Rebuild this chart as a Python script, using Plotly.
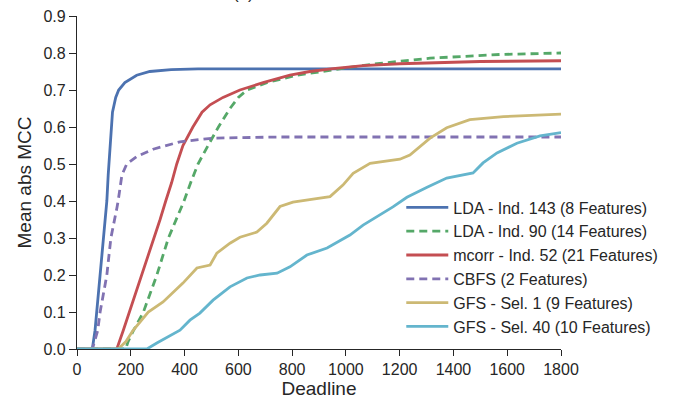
import plotly.graph_objects as go

# LDA - Ind. 143 (8 Features)
lda143_x = [0, 57, 67, 73, 86, 98, 104, 111, 116, 120, 126, 132, 138, 144, 155, 178, 222, 271, 350, 450, 700, 1000, 1400, 1800]
lda143_y = [0, 0, 0.05, 0.10, 0.20, 0.30, 0.35, 0.40, 0.47, 0.52, 0.60, 0.64, 0.66, 0.68, 0.70, 0.72, 0.74, 0.75, 0.755, 0.757, 0.757, 0.757, 0.757, 0.757]

# LDA - Ind. 90 (14 Features)
lda90_x = [0, 181, 190, 210, 247, 297, 340, 398, 423, 450, 495, 526, 569, 600, 632, 706, 818, 904, 978, 1050, 1127, 1313, 1573, 1800]
lda90_y = [0, 0, 0.02, 0.05, 0.10, 0.20, 0.30, 0.40, 0.45, 0.50, 0.56, 0.60, 0.65, 0.68, 0.70, 0.72, 0.74, 0.75, 0.758, 0.765, 0.772, 0.786, 0.796, 0.80]

# mcorr - Ind. 52 (21 Features)
mcorr_x = [0, 148, 172, 195, 210, 240, 286, 309, 330, 352, 371, 394, 431, 465, 495, 543, 606, 692, 792, 866, 952, 1064, 1200, 1313, 1500, 1800]
mcorr_y = [0, 0, 0.05, 0.10, 0.13, 0.20, 0.30, 0.35, 0.40, 0.45, 0.50, 0.55, 0.60, 0.64, 0.66, 0.68, 0.70, 0.72, 0.74, 0.75, 0.758, 0.766, 0.771, 0.774, 0.777, 0.779]

# CBFS (2 Features)
cbfs_x = [0, 57, 77, 86, 111, 126, 148, 153, 167, 185, 222, 283, 383, 506, 755, 1200, 1800]
cbfs_y = [0, 0, 0.05, 0.10, 0.20, 0.30, 0.38, 0.40, 0.47, 0.50, 0.52, 0.54, 0.56, 0.57, 0.573, 0.573, 0.573]

# GFS - Sel. 1 (9 Features)
gfs1_x = [0, 153, 182, 208, 265, 320, 394, 446, 495, 520, 569, 606, 669, 706, 755, 803, 878, 941, 989, 1027, 1090, 1138, 1201, 1238, 1276, 1313, 1375, 1461, 1586, 1800]
gfs1_y = [0, 0, 0.02, 0.05, 0.10, 0.127, 0.178, 0.219, 0.227, 0.259, 0.286, 0.302, 0.316, 0.34, 0.385, 0.397, 0.405, 0.412, 0.443, 0.475, 0.502, 0.506, 0.513, 0.524, 0.547, 0.57, 0.598, 0.62, 0.628, 0.635]

# GFS - Sel. 40 (10 Features)
gfs40_x = [0, 260, 297, 383, 420, 457, 506, 569, 632, 681, 744, 792, 855, 930, 1015, 1064, 1175, 1227, 1302, 1375, 1473, 1510, 1562, 1636, 1722, 1800]
gfs40_y = [0, 0, 0.016, 0.051, 0.078, 0.097, 0.132, 0.168, 0.192, 0.20, 0.205, 0.222, 0.254, 0.273, 0.308, 0.335, 0.384, 0.41, 0.437, 0.462, 0.476, 0.503, 0.53, 0.556, 0.576, 0.585]

x_ticks = [0, 200, 400, 600, 800, 1000, 1200, 1400, 1600, 1800]
y_ticks = [0.0, 0.1, 0.2, 0.3, 0.4, 0.5, 0.6, 0.7, 0.8, 0.9]

series = [
    ("LDA - Ind. 143 (8 Features)", lda143_x, lda143_y, "#4C72B0", "solid"),
    ("LDA - Ind. 90 (14 Features)", lda90_x, lda90_y, "#55A868", "8px,5px"),
    ("mcorr - Ind. 52 (21 Features)", mcorr_x, mcorr_y, "#C44E52", "solid"),
    ("CBFS (2 Features)", cbfs_x, cbfs_y, "#8172B2", "8px,5px"),
    ("GFS - Sel. 1 (9 Features)", gfs1_x, gfs1_y, "#CCB974", "solid"),
    ("GFS - Sel. 40 (10 Features)", gfs40_x, gfs40_y, "#64B5CD", "solid"),
]

fig = go.Figure()
for i, (name, xs, ys, col, dash) in enumerate(series):
    fig.add_trace(go.Scatter(x=xs, y=ys, mode="lines", name=name, legendgroup=f"g{i}",
                             line=dict(color=col, width=2.8, dash=dash)))

font_color = "#262626"
fig.update_layout(
    width=678, height=401,
    margin=dict(l=77, r=117, t=16, b=52),
    paper_bgcolor="white", plot_bgcolor="white",
    font=dict(family="Liberation Sans, Arial, sans-serif", size=16, color=font_color),
    showlegend=True,
    legend=dict(x=0.67, y=0.476, xanchor="left", yanchor="top", bgcolor="rgba(0,0,0,0)",
                font=dict(size=16, color=font_color), tracegroupgap=0, traceorder="grouped",
                itemwidth=42),
    xaxis=dict(range=[0, 1800], tickvals=x_ticks, ticks="outside", ticklen=6, tickwidth=1.2,
               tickcolor=font_color, showline=True, linecolor=font_color, linewidth=1.3,
               showgrid=False, zeroline=False, automargin=False,
               title=dict(text="Deadline", standoff=4)),
    yaxis=dict(range=[0, 0.9], tickvals=y_ticks, tickformat=".1f", ticks="outside", ticklen=7,
               tickwidth=1.2, tickcolor=font_color, showline=True, linecolor=font_color,
               linewidth=1.3, showgrid=False, zeroline=False, automargin=False,
               title=dict(text="Mean abs MCC", standoff=6)),
    annotations=[dict(text="(a)", xref="paper", yref="paper", x=0.345, y=1.0 + 11/333,
                      xanchor="center", yanchor="bottom", showarrow=False,
                      font=dict(size=17, color=font_color))],
)

fig.write_html("out.html", config={"displayModeBar": False},
               post_script="document.body.style.margin='0';")
